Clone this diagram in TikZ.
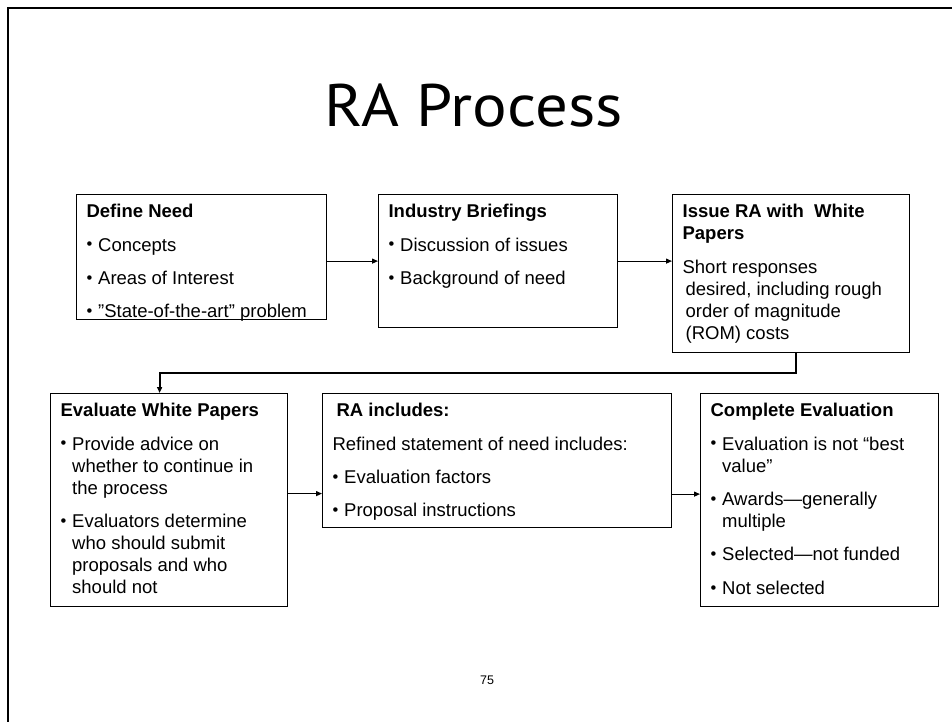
\documentclass[tikz,border=0pt]{standalone}
\usepackage{fontspec}
\setmainfont{Liberation Sans}
\newfontfamily\titlefont{PT Sans}
\usetikzlibrary{arrows.meta}

% body of a process box: width, height, content
\newcommand{\boxbody}[3]{%
  \parbox[t][#2][t]{#1}{%
    \raggedright\setlength{\parindent}{0pt}%
    \fontsize{18.5}{22}\selectfont\setlength{\parskip}{11.4pt}%
    \rule{0pt}{23pt}#3}}
% bullet mark in a fixed-width slot
\newcommand{\bulletmark}{\makebox[11.6pt][l]{\fontsize{16.5}{16.5}\selectfont\raisebox{1.2pt}{•}}}
% bulleted paragraph with hanging indent
\newcommand{\itm}{\par\hangindent=11.6pt\hangafter=1 \bulletmark}
% plain paragraph with a small hanging indent
\newcommand{\plainpar}{\par\hangindent=3pt\hangafter=1 }

\begin{document}
\begin{tikzpicture}[x=1pt,y=-1pt,
  procbox/.style={draw=black, line width=1.2pt, inner xsep=10pt, inner ysep=0pt,
    anchor=north west},
  conn/.style={line width=1.2pt, -{Triangle[length=6pt,width=5pt]}},
  loopconn/.style={line width=2pt, -{Triangle[length=6pt,width=5pt]}}]
\useasboundingbox (0,0) rectangle (952,722);

% slide frame
\draw[line width=2.6pt] (8,722) -- (8,8) -- (952,8);

% heading and page number
\node (title) [anchor=base] at (473.5,127)
  {\titlefont\fontsize{60}{60}\selectfont\scalebox{1.08}[1]{RA Process}};
\node (page) [anchor=base, font=\fontsize{12.5}{13}\selectfont] at (487,684) {75};

% first row
\node (need) [procbox] at (76,194) {\boxbody{230pt}{125pt}{%
  \textbf{Define Need}
  \itm Concepts
  \itm Areas of Interest
  \itm ”State-of-the-art” problem}};

\node (brief) [procbox] at (378,194) {\boxbody{219pt}{133pt}{%
  \textbf{Industry Briefings}
  \itm Discussion of issues
  \itm Background of need}};

\node (issue) [procbox] at (672,194) {\boxbody{217pt}{158pt}{%
  \textbf{Issue RA with~ White\newline Papers}
  \plainpar Short responses\newline desired, including rough\newline order of magnitude\newline (ROM) costs}};

% second row
\node (evalwp) [procbox] at (50,393) {\boxbody{217pt}{213pt}{%
  \textbf{Evaluate White Papers}
  \itm Provide advice on\newline whether to continue in\newline the process
  \itm Evaluators determine\newline who should submit\newline proposals and who\newline should not}};

\node (rainc) [procbox] at (322,393) {\boxbody{329pt}{134pt}{%
  \hspace{4pt}\textbf{RA includes:}
  \par Refined statement of need includes:
  \itm Evaluation factors
  \itm Proposal instructions}};

\node (compl) [procbox] at (700,393) {\boxbody{218pt}{213pt}{%
  \textbf{Complete Evaluation}
  \itm Evaluation is not “best\newline value”
  \itm Awards—generally\newline multiple
  \itm Selected—not funded
  \itm Not selected}};

% connectors
\draw[conn] (need.east |- brief.west) -- (brief.west);
\draw[conn] (brief.east) -- (issue.west |- brief.east);
\draw[loopconn] ([xshift=4.5pt]issue.south) -- ++(0,20) -| ([xshift=-9.5pt]evalwp.north);
\draw[conn] ([yshift=6.5pt]evalwp.east) coordinate (e1) -- (e1 -| rainc.west);
\draw[conn] ([yshift=6pt]compl.west -| rainc.east) -- ([yshift=6pt]compl.west);
\end{tikzpicture}
\end{document}
